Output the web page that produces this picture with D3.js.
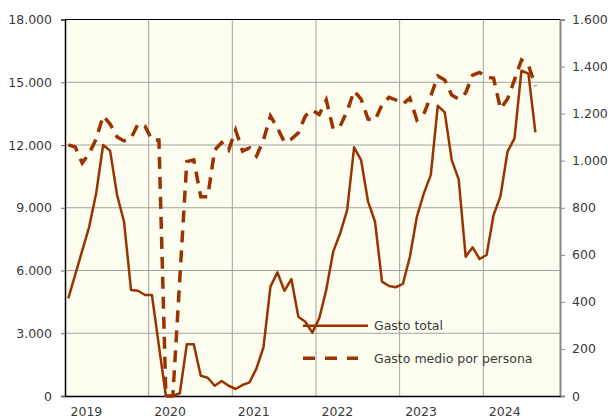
<!DOCTYPE html>
<html>
<head>
<meta charset="utf-8">
<script src="https://cdn.jsdelivr.net/npm/d3@7"></script>
<style>
  body { margin: 0; background: #fff; }
  svg text { font-family: "DejaVu Sans", Verdana, sans-serif; font-size: 12.5px; fill: #3a3a3a; }
</style>
</head>
<body>
<svg id="chart" width="613" height="419"></svg>
<script>
// valores mensuales, el primero es febrero de 2019
var gastoTotal = [4670, 5800, 6950, 8090, 9690, 12000, 11730, 9610, 8330, 5070, 5030, 4830,
                  4830, 2400, 0, 0, 130, 2470, 2470, 970, 875, 490, 720, 490,
                  335, 525, 655, 1320, 2330, 5230, 5910, 5030, 5590, 3790, 3550, 3030,
                  3720, 5070, 6900, 7780, 8890, 11890, 11280, 9290, 8330, 5470, 5260, 5200,
                  5360, 6660, 8570, 9690, 10570, 13880, 13560, 11280, 10360, 6660, 7110, 6550,
                  6740, 8650, 9560, 11680, 12320, 15550, 15410, 12600];
var gastoMedio = [1067, 1058, 990, 1031, 1092, 1190, 1156, 1101, 1084, 1096, 1156, 1147,
                  1088, 1088, 0, 0, 500, 996, 1003, 847, 847, 1045, 1077, 1045,
                  1130, 1041, 1054, 1020, 1088, 1190, 1139, 1079, 1092, 1118, 1190, 1215,
                  1196, 1258, 1135, 1147, 1211, 1296, 1262, 1177, 1173, 1237, 1269, 1258,
                  1241, 1266, 1173, 1198, 1275, 1360, 1343, 1279, 1262, 1288, 1364, 1375,
                  1354, 1351, 1220, 1262, 1343, 1428, 1407, 1317];
var years = [2019, 2020, 2021, 2022, 2023, 2024];
var leftTicks = [0, 3000, 6000, 9000, 12000, 15000, 18000];
var rightTicks = [0, 200, 400, 600, 800, 1000, 1200, 1400, 1600];
var series = ["Gasto total", "Gasto medio por persona"];

var svg = d3.select("#chart"),
    width = +svg.attr("width"),
    height = +svg.attr("height"),
    margin = {top: 19.5, right: 53, bottom: 23, left: 65},
    w = width - margin.left - margin.right,
    h = height - margin.top - margin.bottom,
    color = "#993300",
    offset = 0.47; // posicion del primer punto en meses desde enero 2019

var es = d3.formatLocale({decimal: ",", thousands: ".", grouping: [3], currency: ["", " €"]});
var fmt = es.format(",");

var x = d3.scaleLinear().domain([0, 71]).range([0, w]);
var yL = d3.scaleLinear().domain([0, 18000]).range([h, 0]);
var yR = d3.scaleLinear().domain([0, 1600]).range([h, 0]);

var g = svg.append("g").attr("transform", "translate(" + margin.left + "," + margin.top + ")");

g.append("rect").attr("width", w).attr("height", h).attr("fill", "#fefef0");

// rejilla
g.selectAll(".hgrid").data(leftTicks.slice(1, -1)).enter().append("line")
    .attr("x1", 0).attr("x2", w)
    .attr("y1", function(d) { return yL(d); }).attr("y2", function(d) { return yL(d); })
    .attr("stroke", "#a0a0a0").attr("stroke-width", 1);
g.selectAll(".vgrid").data(years.slice(1)).enter().append("line")
    .attr("x1", function(d) { return x((d - 2019) * 12); }).attr("x2", function(d) { return x((d - 2019) * 12); })
    .attr("y1", 0).attr("y2", h)
    .attr("stroke", "#a0a0a0").attr("stroke-width", 1);

// ejes
var axL = g.append("g")
    .call(d3.axisLeft(yL).tickValues(leftTicks).tickSize(4).tickPadding(9).tickFormat(fmt));
axL.select(".domain").attr("stroke", "#000").attr("stroke-width", 1.5);
axL.selectAll(".tick line").attr("stroke", "#666");
axL.selectAll("text").attr("font-size", null).attr("font-family", null);

var axR = g.append("g").attr("transform", "translate(" + w + ",0)")
    .call(d3.axisRight(yR).tickValues(rightTicks).tickSize(5).tickPadding(7).tickFormat(fmt));
axR.select(".domain").attr("stroke", "#888").attr("stroke-width", 2);
axR.selectAll(".tick line").attr("stroke", "#888");
axR.selectAll("text").attr("font-size", null).attr("font-family", null);

var axB = g.append("g").attr("transform", "translate(0," + h + ")")
    .call(d3.axisBottom(x).tickValues(years.map(function(d) { return (d - 2019) * 12; }))
        .tickSize(0).tickPadding(11).tickFormat(function(d, i) { return years[i]; }));
axB.select(".domain").attr("stroke", "#000").attr("stroke-width", 1.5);
axB.selectAll("text").attr("text-anchor", "start").attr("dx", 5)
    .attr("font-size", null).attr("font-family", null);

g.append("line").attr("x1", 0).attr("x2", w).attr("y1", 0).attr("y2", 0)
    .attr("stroke", "#000").attr("stroke-width", 1);

// lineas
var lineL = d3.line()
    .x(function(d, i) { return x(i + offset); })
    .y(function(d) { return yL(d); });
var lineR = d3.line()
    .x(function(d, i) { return x(i + offset); })
    .y(function(d) { return yR(d); });

g.append("path").datum(gastoMedio)
    .attr("d", lineR).attr("fill", "none").attr("stroke", color)
    .attr("stroke-width", 3.5).attr("stroke-dasharray", "12,8");
g.append("path").datum(gastoTotal)
    .attr("d", lineL).attr("fill", "none").attr("stroke", color)
    .attr("stroke-width", 2.5).attr("stroke-linejoin", "round");

// leyenda
var leg = g.selectAll(".leg").data(series).enter().append("g")
    .attr("transform", function(d, i) { return "translate(" + (303 - margin.left) + "," + (325.7 - margin.top + i * 32.6) + ")"; });
leg.append("line")
    .attr("x1", 0).attr("x2", function(d, i) { return i ? 55 : 65; })
    .attr("stroke", color)
    .attr("stroke-width", function(d, i) { return i ? 3.5 : 2.5; })
    .attr("stroke-dasharray", function(d, i) { return i ? "12,10" : null; });
leg.append("text").attr("x", 71).attr("dy", "0.35em").text(function(d) { return d; });
</script>
</body>
</html>
